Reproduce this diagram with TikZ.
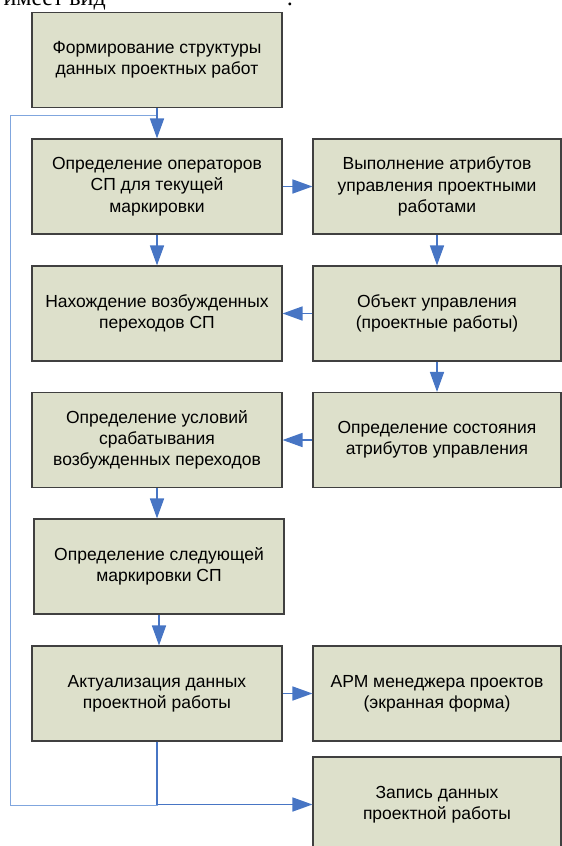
\documentclass[tikz,border=0pt]{standalone}
\usepackage{fontspec}
\setmainfont{Liberation Sans}
\newfontfamily\serifru{Liberation Serif}
\usetikzlibrary{arrows.meta}
\definecolor{boxfill}{RGB}{221,224,203}
\definecolor{arrowblue}{RGB}{71,117,196}
\definecolor{loopblue}{RGB}{128,166,222}
\begin{document}
\begin{tikzpicture}[x=1pt,y=-1pt,
    blok/.style={draw=black!75, line width=1.1pt, fill=boxfill, minimum width=250pt,
                 minimum height=95pt, align=center, inner sep=0pt,
                 font=\fontsize{17.5}{21.3}\selectfont},
    blokr/.style={blok, minimum width=248pt},
    strelka/.style={draw=arrowblue, line width=1.6pt, -{Triangle[length=20pt,width=14pt]}},
    petlya/.style={draw=loopblue, line width=1pt}]
                %%%  Page frame
                \useasboundingbox (0,0) rectangle (562,846);
                %%%  Cut line of text above the chart
                \node[anchor=base east, inner sep=0pt, font=\serifru\fontsize{24}{24}\selectfont] (vvod) at (106,5.5) {имеет вид};
                \node[anchor=base, inner sep=0pt, font=\serifru\fontsize{24}{24}\selectfont] (dvoetoch) at (290,5.5) {:};
                %%%  Left column
                \node[blok] (form)   at (157,60)    {Формирование структуры\\данных проектных работ};
                \node[blok] (oper)   at (157,186.5) {Определение операторов\\СП для текущей\\маркировки};
                \node[blok] (nakh)   at (157,313.5) {Нахождение возбужденных\\переходов СП};
                \node[blok] (uslov)  at (157,440)   {Определение условий\\срабатывания\\возбужденных переходов};
                \node[blok] (sled)   at (159,566.5) {Определение следующей\\маркировки СП};
                \node[blok] (aktual) at (157,693.5) {Актуализация данных\\проектной работы};
                %%%  Right column
                \node[blokr] (vypol) at (437,186.5) {Выполнение атрибутов\\управления проектными\\работами};
                \node[blokr] (obj)   at (437,313.5) {Объект управления\\(проектные работы)};
                \node[blokr] (sost)  at (437,440)   {Определение состояния\\атрибутов управления};
                \node[blokr] (arm)   at (437,693.5) {АРМ менеджера проектов\\(экранная форма)};
                \node[blokr] (zap)   at (437,804.5) {Запись данных\\проектной работы};
                %%%  Return loop (thin line)
                \coordinate (loopbot) at (10.7,805.7);
                \coordinate (looptop) at (10.7,115.3);
                \draw[petlya] (aktual.south) |- (loopbot) -- (looptop) -- (oper.north |- looptop);
                %%%  Arrows
                \draw[strelka] (form.south) -- (oper.north);
                \draw[strelka] (oper.east) -- (vypol.west);
                \draw[strelka] (oper.south) -- (nakh.north);
                \draw[strelka] (vypol.south) -- (obj.north);
                \draw[strelka] (obj.west) -- (nakh.east);
                \draw[strelka] (obj.south) -- (sost.north);
                \draw[strelka] (sost.west) -- (uslov.east);
                \draw[strelka] (uslov.south) -- (uslov.south |- sled.north);
                \draw[strelka] (sled.south) -- (sled.south |- aktual.north);
                \draw[strelka] (aktual.east) -- (arm.west);
                \draw[strelka] (aktual.south) |- (zap.west);
                % Note: the loop is drawn first so the arrows lie on top.
\end{tikzpicture}
\end{document}
